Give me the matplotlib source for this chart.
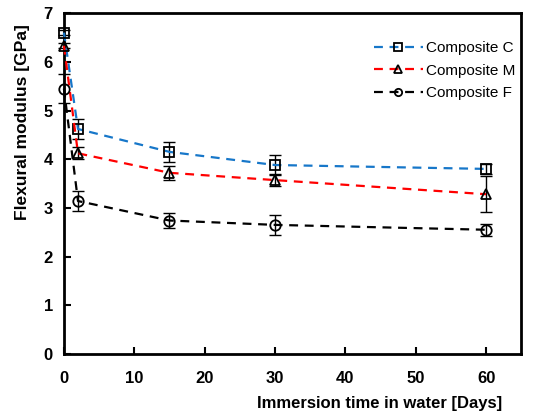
import numpy as np
import matplotlib.pyplot as plt

plt.rcParams['font.family'] = ['Liberation Sans', 'DejaVu Sans']

# Immersion time [days]
days = [0, 2, 15, 30, 60]

# Flexural modulus [GPa] and error bars
comp_c = [6.60, 4.62, 4.15, 3.88, 3.80]
comp_c_err = [0.05, 0.20, 0.20, 0.20, 0.10]
comp_m = [6.33, 4.12, 3.72, 3.57, 3.28]
comp_m_err = [0.05, 0.12, 0.15, 0.12, 0.37]
comp_f = [5.45, 3.14, 2.74, 2.65, 2.55]
comp_f_err = [0.30, 0.20, 0.15, 0.20, 0.12]

series = [
    ('Composite C', comp_c, comp_c_err, '#1777c9', 's'),
    ('Composite M', comp_m, comp_m_err, '#ff0000', '^'),
    ('Composite F', comp_f, comp_f_err, 'black', 'o'),
]

fig = plt.figure(figsize=(5.51, 4.11), dpi=100)
ax = fig.add_axes([0.116, 0.139, 0.830, 0.829])

for name, vals, err, col, mk in series:
    ax.errorbar(days, vals, yerr=err, fmt='none', ecolor='black',
                elinewidth=1.0, capsize=4, capthick=1.0, zorder=2, clip_on=False)
    ax.plot(days, vals, linestyle=(0, (4, 3)), color=col, linewidth=1.6,
            marker=mk, markersize=7.5, markerfacecolor='none',
            markeredgecolor='black', markeredgewidth=1.3, label=name,
            zorder=3, clip_on=False)

ax.set_xlim(0, 65)
ax.set_ylim(0, 7)
ax.set_xticks(np.arange(0, 61, 10))
ax.set_yticks(np.arange(0, 8, 1))
ax.tick_params(direction='in', length=5, width=1.5, labelsize=12)
ax.tick_params(axis='y', pad=8)
ax.tick_params(axis='x', pad=12)
for lbl in ax.get_xticklabels() + ax.get_yticklabels():
    lbl.set_fontweight('bold')
for s in ax.spines.values():
    s.set_linewidth(2)

ax.set_xlabel('Immersion time in water [Days]', fontsize=12, fontweight='bold')
ax.xaxis.set_label_coords(0.69, -0.125)
ax.set_ylabel('Flexural modulus [GPa]', fontsize=12.5, fontweight='bold')
ax.yaxis.set_label_coords(-0.075, 0.68)

ax.legend(loc='upper right', bbox_to_anchor=(1.0, 0.935), borderaxespad=0,
          frameon=False, fontsize=11, handlelength=3.2, handletextpad=0.2,
          markerscale=0.7, labelspacing=0.55)

fig.savefig('out.png', dpi=100)
